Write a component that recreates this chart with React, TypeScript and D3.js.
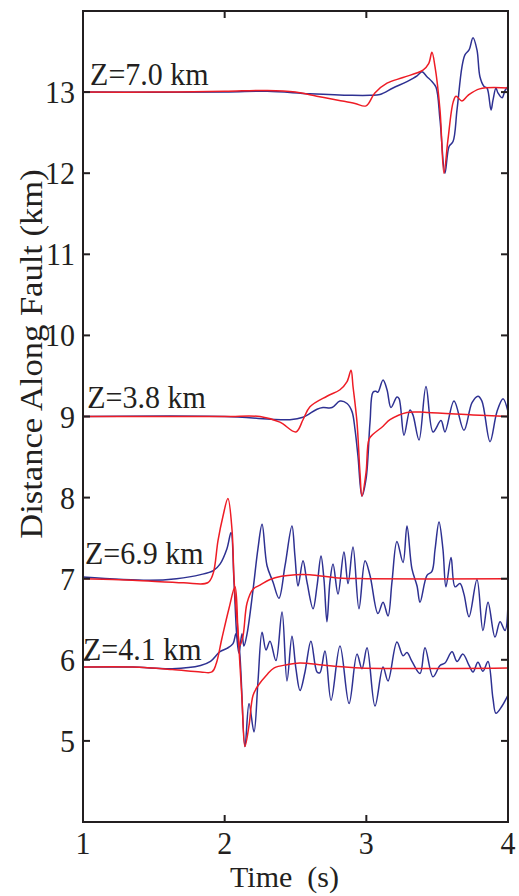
import * as React from 'react';
import * as d3 from 'd3';

// time (s) / distance along fault (km) pairs
const xTicks = [1, 2, 3, 4];
const yTicks = [5, 6, 7, 8, 9, 10, 11, 12, 13];
const depthLabels = ['Z=7.0 km', 'Z=3.8 km', 'Z=6.9 km', 'Z=4.1 km'];
const labelAt = [
  [1.05, 13.09],
  [1.03, 9.11],
  [1.014, 7.18],
  [1.0, 6.0],
];

const blueZ70 = [
  [1.0, 13.0], [2.0, 13.0], [2.3, 13.01], [2.6, 12.98], [2.9, 12.96], [3.026, 12.96],
  [3.096, 12.97], [3.188, 13.05], [3.287, 13.13], [3.358, 13.2], [3.393, 13.25], [3.428, 13.19],
  [3.463, 13.13], [3.492, 13.06], [3.52, 12.66], [3.555, 12.0], [3.584, 12.33], [3.612, 12.39],
  [3.64, 12.78], [3.675, 13.31], [3.696, 13.46], [3.725, 13.52], [3.753, 13.67], [3.781, 13.52],
  [3.802, 13.19], [3.831, 13.07], [3.852, 13.05], [3.88, 12.78], [3.894, 12.9], [3.915, 13.05],
  [3.929, 12.99], [3.958, 12.93], [3.979, 13.02], [4.0, 13.07],
];
const redZ70 = [
  [1.0, 13.0], [1.5, 13.0], [2.0, 13.01], [2.3, 13.02], [2.5, 13.0], [2.65, 12.95], [2.8, 12.9],
  [2.92, 12.86], [2.998, 12.83], [3.06, 12.99], [3.146, 13.11], [3.259, 13.18], [3.4, 13.27],
  [3.44, 13.35], [3.463, 13.49], [3.485, 13.31], [3.52, 12.78], [3.548, 12.0], [3.576, 12.41],
  [3.612, 12.87], [3.633, 12.95], [3.675, 12.89], [3.718, 12.96], [3.8, 13.04], [4.0, 13.05],
];

const blueZ38 = [
  [1.0, 9.0], [2.0, 9.0], [2.461, 8.96], [2.553, 8.99], [2.652, 9.09], [2.694, 9.11], [2.758, 9.11],
  [2.814, 9.19], [2.864, 9.16], [2.899, 9.06], [2.92, 8.84], [2.941, 8.51], [2.969, 8.02],
  [2.998, 8.23], [3.026, 8.93], [3.047, 9.3], [3.068, 9.31], [3.082, 9.3], [3.118, 9.45],
  [3.146, 9.33], [3.174, 9.11], [3.216, 9.24], [3.231, 9.22], [3.266, 8.77], [3.308, 9.08],
  [3.329, 9.02], [3.372, 8.71], [3.421, 9.37], [3.471, 8.81], [3.527, 8.95], [3.555, 8.81],
  [3.619, 9.19], [3.689, 8.83], [3.746, 9.17], [3.788, 9.25], [3.816, 9.19], [3.873, 8.69],
  [3.922, 9.06], [3.965, 9.22], [4.0, 9.06],
];
const redZ38 = [
  [1.0, 9.0], [2.0, 9.0], [2.249, 9.0], [2.39, 8.93], [2.503, 8.81], [2.553, 8.96], [2.602, 9.12],
  [2.722, 9.25], [2.814, 9.33], [2.864, 9.43], [2.892, 9.57], [2.906, 9.37], [2.934, 8.93],
  [2.955, 8.31], [2.969, 8.02], [2.998, 8.31], [3.019, 8.72], [3.047, 8.78], [3.118, 8.88],
  [3.167, 8.96], [3.287, 9.05], [3.428, 9.05], [3.753, 9.02], [4.0, 9.0],
];

const blueZ69 = [
  [1.0, 7.02], [1.47, 6.98], [1.66, 7.0], [1.83, 7.05], [1.92, 7.1], [1.967, 7.18], [2.016, 7.37],
  [2.045, 7.57], [2.066, 6.96], [2.087, 6.26], [2.101, 6.08], [2.122, 6.32], [2.136, 6.17],
  [2.158, 6.32], [2.2, 6.86], [2.235, 7.37], [2.264, 7.67], [2.299, 7.16], [2.341, 6.96],
  [2.383, 6.76], [2.426, 7.16], [2.475, 7.65], [2.496, 7.28], [2.518, 6.91], [2.553, 7.22],
  [2.581, 6.96], [2.624, 6.63], [2.652, 6.91], [2.68, 7.28], [2.701, 6.99], [2.722, 6.47],
  [2.743, 6.96], [2.765, 7.18], [2.8, 6.81], [2.842, 7.33], [2.871, 6.94], [2.906, 7.39],
  [2.948, 6.63], [2.991, 7.22], [3.026, 7.04], [3.082, 6.57], [3.118, 6.71], [3.153, 6.54],
  [3.181, 6.96], [3.216, 7.46], [3.259, 7.2], [3.287, 7.65], [3.322, 7.12], [3.358, 6.91],
  [3.379, 6.71], [3.428, 7.04], [3.463, 7.09], [3.485, 7.36], [3.513, 7.7], [3.541, 7.36],
  [3.562, 6.9], [3.598, 7.26], [3.626, 6.9], [3.661, 6.94], [3.689, 6.81], [3.725, 6.53],
  [3.781, 6.99], [3.823, 6.36], [3.859, 6.71], [3.908, 6.28], [3.944, 6.47], [3.979, 6.36],
  [4.0, 6.7],
];
const redZ69 = [
  [1.0, 7.0], [1.35, 6.98], [1.71, 6.95], [1.88, 6.95], [1.918, 7.06], [1.953, 7.47],
  [1.988, 7.77], [2.023, 7.99], [2.052, 7.6], [2.066, 7.0], [2.087, 6.5], [2.108, 6.18],
  [2.13, 6.3], [2.158, 6.7], [2.2, 6.87], [2.249, 6.92], [2.32, 6.99], [2.4, 7.03], [2.5, 7.05],
  [2.6, 7.05], [2.8, 7.01], [3.0, 7.0], [4.0, 7.0],
];

const blueZ41 = [
  [1.0, 5.91], [1.35, 5.91], [1.63, 5.89], [1.83, 5.93], [1.9, 5.98], [1.967, 6.1], [2.016, 6.14],
  [2.059, 6.2], [2.08, 6.32], [2.101, 6.18], [2.143, 4.93], [2.172, 5.46], [2.207, 5.11],
  [2.235, 5.73], [2.264, 6.34], [2.292, 6.12], [2.32, 6.23], [2.362, 5.99], [2.405, 6.59],
  [2.44, 5.74], [2.475, 6.29], [2.503, 5.89], [2.532, 5.62], [2.567, 5.85], [2.609, 6.23],
  [2.652, 5.85], [2.672, 5.84], [2.708, 6.11], [2.751, 5.5], [2.814, 6.17], [2.878, 5.46],
  [2.934, 6.07], [2.969, 5.89], [3.005, 6.15], [3.061, 5.43], [3.118, 5.91], [3.153, 5.74],
  [3.216, 6.22], [3.259, 6.05], [3.287, 6.09], [3.322, 5.98], [3.379, 5.83], [3.414, 6.15],
  [3.471, 5.79], [3.52, 5.93], [3.555, 5.96], [3.605, 6.1], [3.64, 5.98], [3.682, 6.07],
  [3.725, 5.93], [3.753, 5.85], [3.788, 5.97], [3.823, 5.86], [3.859, 5.98], [3.894, 5.52],
  [3.915, 5.34], [3.958, 5.43], [3.993, 5.54], [4.0, 5.56],
];
const redZ41 = [
  [1.0, 5.91], [1.35, 5.91], [1.63, 5.88], [1.83, 5.85], [1.91, 5.85], [1.94, 5.95], [1.98, 6.26],
  [2.03, 6.63], [2.073, 6.9], [2.094, 6.34], [2.122, 5.52], [2.143, 4.93], [2.172, 5.19],
  [2.2, 5.56], [2.235, 5.68], [2.3, 5.82], [2.35, 5.9], [2.44, 5.94], [2.53, 5.96], [2.72, 5.93],
  [2.96, 5.9], [4.0, 5.9],
];

const blueSeries = [blueZ70, blueZ38, blueZ69, blueZ41];
const redSeries = [redZ70, redZ38, redZ69, redZ41];

const BLUE = '#2e3192';
const RED = '#ee1c25';
const FONT = '"Liberation Serif", "Times New Roman", serif';

export default function App() {
  const width = 519;
  const height = 896;
  const margin = { top: 11, right: 11, bottom: 74, left: 83 };

  const x = d3.scaleLinear().domain([1, 4]).range([margin.left, width - margin.right]);
  const y = d3.scaleLinear().domain([4, 14]).range([height - margin.bottom, margin.top]);

  const line = d3
    .line<number[]>()
    .x(d => x(d[0]))
    .y(d => y(d[1]))
    .curve(d3.curveCatmullRom.alpha(0.5));

  const x0 = x(1), x1 = x(4), y0 = y(4), y1 = y(14);
  const tick = 7;

  return (
    <svg
      width={width}
      height={height}
      style={{ position: 'absolute', left: 0, top: 0, background: '#fff' }}
      fontFamily={FONT}
    >
      <g fill="none" strokeWidth={1.5} strokeLinejoin="round">
        {blueSeries.map((s, i) => (
          <path key={'b' + i} d={line(s) || ''} stroke={BLUE} />
        ))}
        {redSeries.map((s, i) => (
          <path key={'r' + i} d={line(s) || ''} stroke={RED} />
        ))}
      </g>

      {/* axes box with inward ticks */}
      <g stroke="#231f20" strokeWidth={2}>
        <rect x={x0} y={y1} width={x1 - x0} height={y0 - y1} fill="none" />
        {yTicks.map(v => (
          <g key={'yt' + v}>
            <line x1={x0} x2={x0 + tick} y1={y(v)} y2={y(v)} />
            <line x1={x1} x2={x1 - tick} y1={y(v)} y2={y(v)} />
          </g>
        ))}
        {xTicks.map(v => (
          <g key={'xt' + v}>
            <line x1={x(v)} x2={x(v)} y1={y0} y2={y0 - tick} />
            <line x1={x(v)} x2={x(v)} y1={y1} y2={y1 + tick} />
          </g>
        ))}
      </g>

      <g fill="#231f20" fontSize={30}>
        {yTicks.map(v => (
          <text
            key={'yl' + v}
            transform={`translate(${x0 - 8},${y(v) + 11}) scale(1,1.08)`}
            textAnchor="end"
          >
            {v}
          </text>
        ))}
        {xTicks.map(v => (
          <text
            key={'xl' + v}
            transform={`translate(${x(v)},${y0 + 32}) scale(1,1.08)`}
            textAnchor="middle"
          >
            {v}
          </text>
        ))}
        {depthLabels.map((t, i) => (
          <text
            key={'z' + i}
            transform={`translate(${x(labelAt[i][0])},${y(labelAt[i][1])}) scale(1,1.08)`}
          >
            {t}
          </text>
        ))}
        <text
          transform={`translate(${(x0 + x1) / 2 - 11},${y0 + 65})`}
          textAnchor="middle"
          style={{ whiteSpace: 'pre' }}
        >
          {'Time  (s)'}
        </text>
        <text
          transform={`translate(42,354) scale(1,1.08) rotate(-90)`}
          textAnchor="middle"
          fontSize={32}
        >
          Distance Along Fault (km)
        </text>
      </g>
    </svg>
  );
}
